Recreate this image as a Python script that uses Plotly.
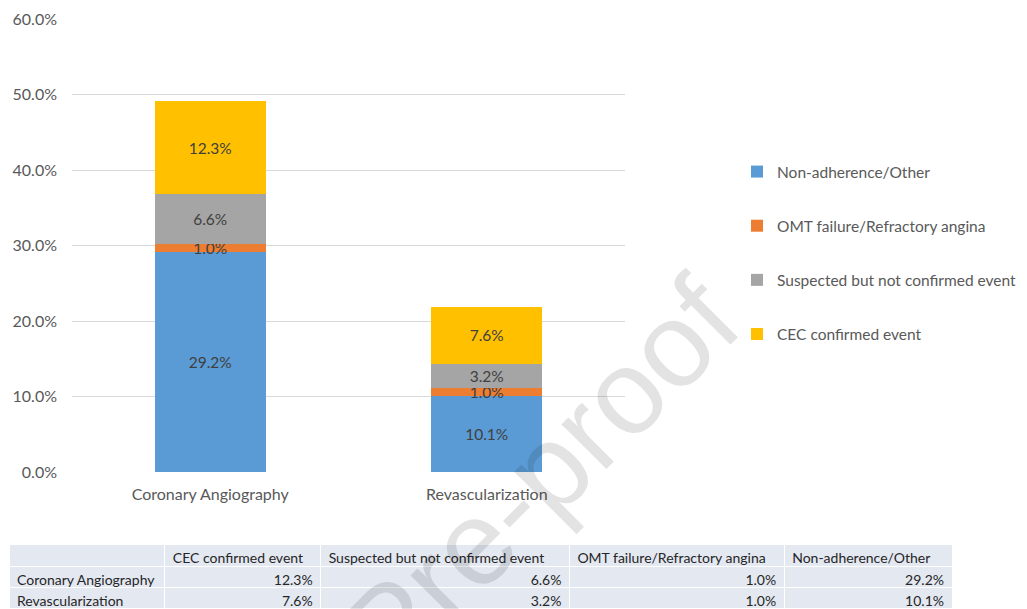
import plotly.graph_objects as go

categories = ["Coronary Angiography", "Revascularization"]
series_names = ["Non-adherence/Other", "OMT failure/Refractory angina",
                "Suspected but not confirmed event", "CEC confirmed event"]
non_adherence = [29.2, 10.1]
omt_failure = [1.0, 1.0]
suspected = [6.6, 3.2]
cec_confirmed = [12.3, 7.6]
colors = ["#5b9bd5", "#ed7d31", "#a5a5a5", "#ffc000"]
y_ticks = [0, 10, 20, 30, 40, 50, 60]

series_values = [non_adherence, omt_failure, suspected, cec_confirmed]

# the page body has an 8px margin, so the figure is drawn 8px smaller
W, H = 1019, 601
OFF = 8


def px(x):
    return (x - OFF) / W


def py(y):
    return 1 - (y - OFF) / H


def nowrap(s):
    return s.replace(" ", "\u00a0")


FONT = "Lato"
GREY = "#595959"

fig = go.Figure()
for i, (name, vals, col) in enumerate(zip(series_names, series_values, colors)):
    fig.add_trace(go.Bar(
        x=categories, y=vals, name=name, marker_color=col,
        marker_line_width=0, width=0.4,
        texttemplate="%{y:.1f}%", textposition="inside",
        insidetextanchor="middle", textangle=0,
        textfont=dict(family=FONT, size=15.5, color="#404040"),
        legendgroup=f"g{i}", cliponaxis=False,
    ))

# data table below the chart, built from the same arrays
table_order = [3, 2, 1, 0]
header_vals = [""] + [nowrap(series_names[k]) for k in table_order]
col_vals = [[nowrap(c) for c in categories]] + [
    [f"{series_values[k][j]:.1f}%" for j in range(len(categories))] for k in table_order]
fig.add_trace(go.Table(
    domain=dict(x=[px(9), px(953)], y=[0, py(544)]),
    columnwidth=[156, 156, 249, 215, 168],
    header=dict(values=header_vals, align="left", height=22,
                fill_color="#e3e8f1", line=dict(color="white", width=1),
                font=dict(family=FONT, size=14, color="#262626")),
    cells=dict(values=col_vals, align=["left", "right", "right", "right", "right"],
               height=21, fill_color="#e3e8f1", line=dict(color="white", width=1),
               font=dict(family=FONT, size=14, color="#262626")),
))

fig.add_annotation(
    text="Pre-proof", x=px(540), y=py(476), xref="paper", yref="paper",
    xanchor="center", yanchor="middle",
    showarrow=False, textangle=-45,
    font=dict(family="Liberation Sans", size=120, color="rgba(0,0,0,0.11)"),
)

fig.update_layout(
    width=W, height=H,
    margin=dict(l=0, r=0, t=0, b=0, autoexpand=False),
    paper_bgcolor="white", plot_bgcolor="white",
    barmode="stack",
    font=dict(family=FONT, size=16, color=GREY),
    xaxis=dict(domain=[px(72), px(625)], showgrid=False, showline=False,
               ticks="", tickfont=dict(family=FONT, size=16, color=GREY),
               ticklabelstandoff=11, anchor="y", automargin=False),
    yaxis=dict(domain=[py(472), py(19)], range=[0, 60],
               tickvals=y_ticks, ticktext=[f"{v:.1f}%" for v in y_ticks],
               showgrid=True, gridcolor="#d9d9d9", gridwidth=1,
               zeroline=False, showline=False, ticks="",
               ticklabelstandoff=14, automargin=False,
               tickfont=dict(family=FONT, size=16, color=GREY)),
    legend=dict(x=px(737), y=py(155), xanchor="left", yanchor="top",
                traceorder="grouped", tracegroupgap=31,
                font=dict(family=FONT, size=15.5, color=GREY),
                bgcolor="rgba(0,0,0,0)"),
    uniformtext=dict(minsize=15.5, mode="show"),
    showlegend=True,
)

fig.write_html("out.html")
